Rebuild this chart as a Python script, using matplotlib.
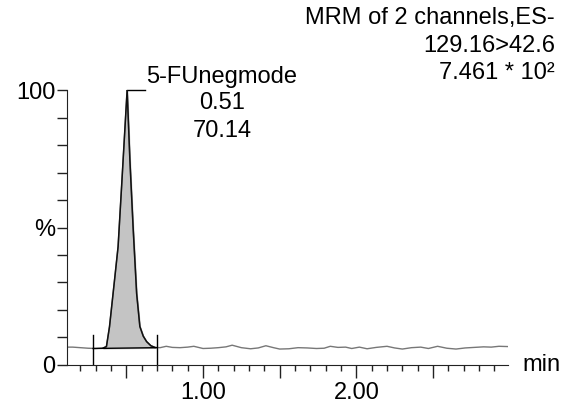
import matplotlib
matplotlib.use("Agg")
import matplotlib.pyplot as plt
import numpy as np

plt.rcParams['font.family'] = ['Liberation Sans', 'DejaVu Sans']

# chromatogram trace (time in min, intensity in %)
time = [0.11, 0.15, 0.20, 0.25, 0.30, 0.35, 0.37, 0.39, 0.425, 0.446, 0.469,
        0.505, 0.523, 0.544, 0.567, 0.588, 0.61, 0.632, 0.66, 0.686, 0.72,
        0.76, 0.80, 0.85, 0.90, 0.94, 1.00, 1.05, 1.10, 1.15, 1.19, 1.25,
        1.31, 1.36, 1.41, 1.46, 1.50, 1.56, 1.62, 1.68, 1.74, 1.79, 1.83,
        1.88, 1.93, 1.97, 2.02, 2.07, 2.13, 2.20, 2.25, 2.30, 2.36, 2.42,
        2.47, 2.53, 2.59, 2.65, 2.71, 2.77, 2.83, 2.88, 2.93, 2.99]
intensity = [6.5, 6.5, 6.3, 6.1, 6.0, 6.2, 6.7, 13.9, 32, 43, 65,
             100, 74.5, 50, 26, 14, 10.5, 8.5, 7.0, 6.4, 6.3,
             6.8, 6.4, 6.3, 6.5, 6.8, 6.0, 6.1, 6.3, 6.6, 7.2, 6.3,
             5.9, 6.2, 7.0, 6.3, 5.8, 5.9, 6.3, 6.2, 6.0, 6.1, 6.8,
             6.4, 6.5, 6.0, 6.5, 5.9, 6.4, 6.8, 6.2, 5.8, 6.3, 6.5,
             6.0, 6.8, 6.1, 5.8, 6.2, 6.4, 6.6, 6.5, 6.8, 6.7]

# integration limits and baseline
int_start, int_end = 0.283, 0.697
base_start, base_end = 6.0, 6.3
peak_rt = 0.51
peak_area = 70.14
peak_name = '5-FUnegmode'

t = np.array(time)
y = np.array(intensity)

fig = plt.figure(figsize=(5.69, 4.08), dpi=100)
ax = fig.add_axes([0.117, 0.1054, 0.776, 0.6740])

# trace outside peak in grey, peak in black
ax.plot(t, y, color='#777777', lw=1.0, zorder=2)
m = (t >= 0.35) & (t <= 0.686)
ax.plot(t[m], y[m], color='#111111', lw=1.1, zorder=3)

# shaded peak area above integration baseline
bl = base_start + (t[m] - int_start) / (int_end - int_start) * (base_end - base_start)
ax.fill_between(t[m], bl, y[m], where=y[m] >= bl, color='#c4c4c4', zorder=1)
ax.plot([int_start, int_end], [base_start, base_end], color='black', lw=1.0, zorder=3)
ax.plot([int_start, int_start], [0.5, 11], color='black', lw=1.0, zorder=3)
ax.plot([int_end, int_end], [0.5, 11], color='black', lw=1.0, zorder=3)

ax.set_xlim(0.11, 2.99)
ax.set_ylim(0, 100)
for s in ['top', 'right']:
    ax.spines[s].set_visible(False)
ax.spines['left'].set_color('#222222')
ax.spines['bottom'].set_color('#222222')

ax.set_xticks([0.5, 1.0, 1.5, 2.0, 2.5])
ax.set_xticklabels(['', '1.00', '', '2.00', ''])
ax.set_xticks(np.arange(0.2, 2.95, 0.1), minor=True)
ax.tick_params(axis='x', which='major', length=9.5, width=1, color='#222222',
               labelsize=17, pad=3)
ax.tick_params(axis='x', which='minor', length=4, width=1, color='#222222')
ax.set_yticks(np.arange(0, 101, 10))
ax.set_yticklabels(['0', '', '', '', '', '%', '', '', '', '', '100'])
ax.tick_params(axis='y', length=7, width=1, color='#222222', labelsize=17, pad=1)

fig.text(0.918, 0.1054, 'min', fontsize=17, ha='left', va='center')

# peak label with leader line
ax.plot([0.505, 0.621], [100, 100], color='black', lw=1.0, clip_on=False)
ax.text(1.124, 104.7, peak_name, fontsize=17, ha='center', va='center', clip_on=False)
ax.text(1.124, 95.3, f'{peak_rt:.2f}', fontsize=17, ha='center', va='center', clip_on=False)
ax.text(1.124, 85.1, f'{peak_area:.2f}', fontsize=17, ha='center', va='center', clip_on=False)

# header
fig.text(0.975, 0.955, 'MRM of 2 channels,ES-', fontsize=17, ha='right', va='center')
fig.text(0.975, 0.887, '129.16>42.6', fontsize=17, ha='right', va='center')
fig.text(0.975, 0.821, '7.461 * 10\u00b2', fontsize=17, ha='right', va='center')

fig.savefig('out.png', dpi=100)
